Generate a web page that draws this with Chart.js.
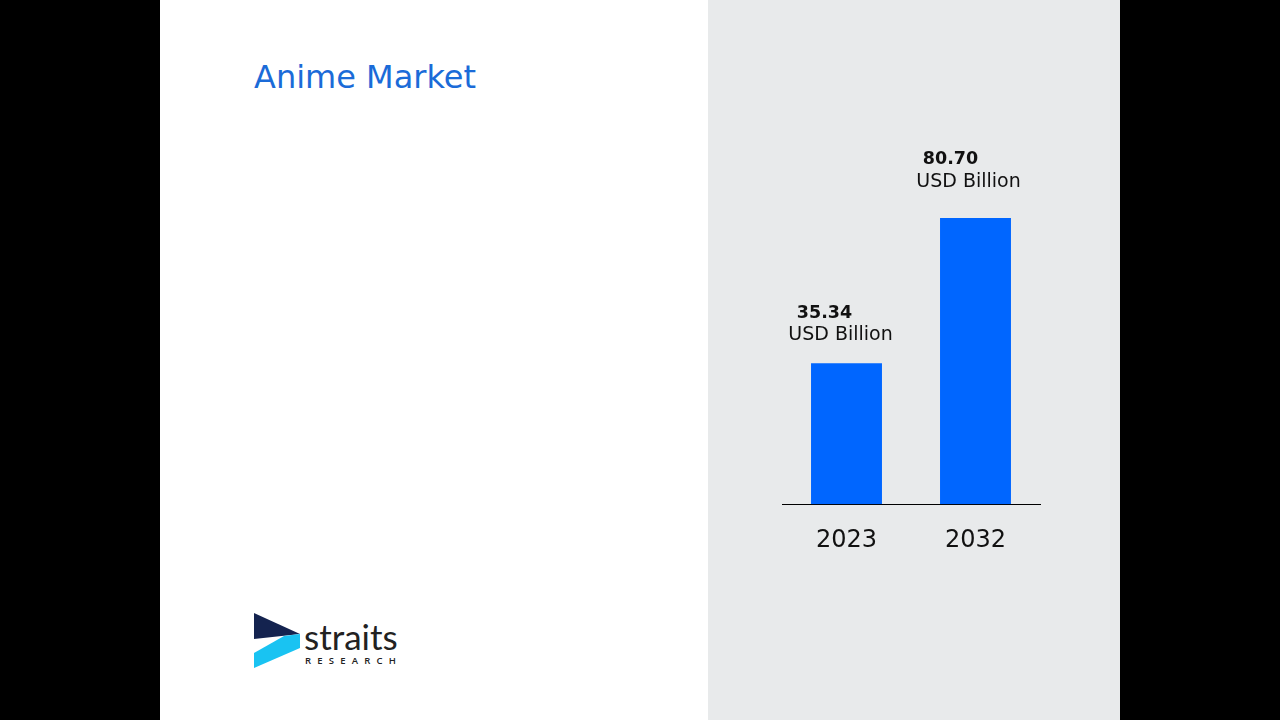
<!DOCTYPE html>
<html lang="en">
<head>
    <meta charset="UTF-8">
    <title>Anime Market</title>
    <script src="https://cdn.jsdelivr.net/npm/chart.js"></script>
    <style>
        html, body { margin: 0; padding: 0; width: 1280px; height: 720px; background: #000; overflow: hidden; }
        .page { position: absolute; left: 160px; top: 0; width: 960px; height: 720px; background: #fff; }
        .side { position: absolute; left: 708px; top: 0; width: 412px; height: 720px; background: #e8eaeb; }
        .title { position: absolute; left: 254px; top: 58px; font-family: "DejaVu Sans", sans-serif; font-size: 32px; color: #1b6bd8; white-space: nowrap; }
        .logo { position: absolute; left: 254px; top: 612px; }
        #wrap { position: absolute; left: 708px; top: 0; width: 412px; height: 720px; }
    </style>
</head>
<body>
    <div class="page"></div>
    <div class="side"></div>
    <div class="title">Anime Market</div>

    <!-- logo -->
    <svg class="logo" width="150" height="60" viewBox="0 0 150 60">
        <polygon points="0,1 46,22 0,27" fill="#14234f"/>
        <polygon points="0,41 30,24 46,22 46,36 0,56" fill="#19c3f2"/>
        <text x="50" y="38" font-family="Lato, 'Open Sans', sans-serif" font-size="35" fill="#222">straits</text>
        <text x="51" y="52" font-family="'Open Sans', sans-serif" font-size="9.5" font-weight="600" letter-spacing="6.2" fill="#222">RESEARCH</text>
    </svg>

    <div id="wrap"><canvas id="marketChart" width="412" height="720"></canvas></div>

    <script>
        const years = ['2023', '2032'];
        const marketValues = [35.34, 80.70];
        const valueUnit = 'USD Billion';
        const axisMin = -8.76;
        const axisMax = 117.6;

        // value label placement relative to each bar top (dx, dy)
        const labelOffsets = [
            { vx: -22, vy: -50, ux: -6, uy: -28 },
            { vx: -25, vy: -59, ux: -7, uy: -36 }
        ];

        const barLabels = {
            id: 'barLabels',
            afterDatasetsDraw(chart) {
                const ctx = chart.ctx;
                const meta = chart.getDatasetMeta(0);
                ctx.save();
                ctx.textAlign = 'center';
                ctx.textBaseline = 'middle';
                ctx.fillStyle = '#111';
                meta.data.forEach((bar, i) => {
                    const o = labelOffsets[i];
                    ctx.font = 'bold 17.5px "DejaVu Sans"';
                    ctx.fillText(marketValues[i].toFixed(2), bar.x + o.vx, bar.y + o.vy);
                    ctx.font = '19px "DejaVu Sans"';
                    ctx.fillText(valueUnit, bar.x + o.ux, bar.y + o.uy);
                });
                ctx.restore();
            }
        };

        new Chart(document.getElementById('marketChart').getContext('2d'), {
            type: 'bar',
            data: {
                labels: years,
                datasets: [{
                    data: marketValues,
                    base: axisMin,
                    backgroundColor: '#0066ff',
                    borderWidth: 0,
                    barPercentage: 0.55,
                    categoryPercentage: 1
                }]
            },
            options: {
                responsive: false,
                animation: false,
                layout: { padding: { left: 74, right: 80, top: 100, bottom: 143 } },
                plugins: { legend: { display: false }, tooltip: { enabled: false } },
                scales: {
                    x: {
                        grid: { display: false, drawTicks: false },
                        border: { display: true, color: '#000', width: 1 },
                        ticks: { color: '#111', font: { family: 'DejaVu Sans', size: 24 }, padding: 22 }
                    },
                    y: {
                        display: false,
                        min: axisMin,
                        max: axisMax
                    }
                }
            },
            plugins: [barLabels]
        });
    </script>
</body>
</html>
